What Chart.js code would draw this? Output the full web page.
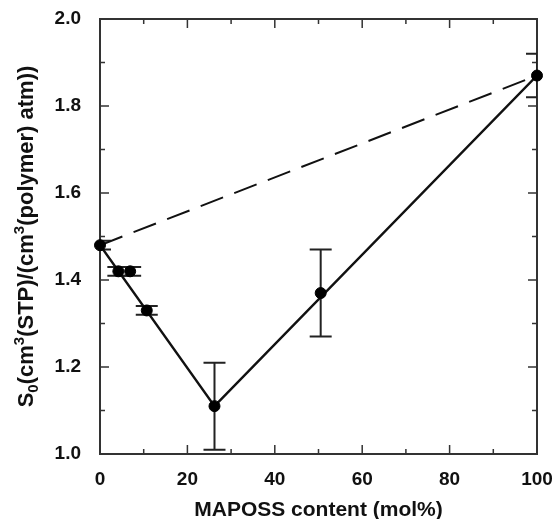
<!DOCTYPE html>
<html>
<head>
<meta charset="utf-8">
<script src="https://cdn.jsdelivr.net/npm/chart.js@4/dist/chart.umd.min.js"></script>
<style>
html,body{margin:0;padding:0;background:#fff;}
#wrap{width:558px;height:519px;}
</style>
</head>
<body>
<div id="wrap"><canvas id="c" width="558" height="519"></canvas></div>
<script>
// ---- data ----
const xValues = [0, 4.2, 6.9, 10.7, 26.2, 50.5, 100];
const yValues = [1.48, 1.42, 1.42, 1.33, 1.11, 1.37, 1.87];
const yErrors = [0.01, 0.01, 0.01, 0.01, 0.10, 0.10, 0.05];
const solidX = [0, 26.2, 100];
const solidY = [1.48, 1.11, 1.87];
const dashX = [0, 100];
const dashY = [1.48, 1.87];
const xTicks = [0, 20, 40, 60, 80, 100];
const xMinor = [10, 30, 50, 70, 90];
const yTicks = [1.0, 1.2, 1.4, 1.6, 1.8, 2.0];
const yMinor = [1.1, 1.3, 1.5, 1.7, 1.9];
const xTitle = 'MAPOSS content (mol%)';
const yTitleParts = [['S',''],['0','sub'],['(cm',''],['3','sup'],['(STP)/(cm',''],['3','sup'],['(polymer) atm))','']];

const FONT = '"Liberation Sans", Arial, sans-serif';
const AXC = '#333';

const pts = xValues.map((x,i)=>({x, y:yValues[i]}));

const errorBars = {
  id:'errorBars',
  beforeDatasetsDraw(chart){
    const {ctx, chartArea:a, scales:{x,y}} = chart;
    ctx.save();
    ctx.beginPath(); ctx.rect(a.left, a.top, a.right-a.left, a.bottom-a.top); ctx.clip();
    ctx.strokeStyle = '#222'; ctx.lineWidth = 2;
    xValues.forEach((xv,i)=>{
      const px = x.getPixelForValue(xv);
      const top = y.getPixelForValue(yValues[i]+yErrors[i]);
      const bot = y.getPixelForValue(yValues[i]-yErrors[i]);
      ctx.beginPath();
      ctx.moveTo(px, top); ctx.lineTo(px, bot);
      ctx.moveTo(px-11, top); ctx.lineTo(px+11, top);
      ctx.moveTo(px-11, bot); ctx.lineTo(px+11, bot);
      ctx.stroke();
    });
    ctx.restore();
  }
};

const frame = {
  id:'frame',
  beforeDatasetsDraw(chart){
    const {ctx, chartArea:a, scales:{x,y}} = chart;
    ctx.save();
    ctx.strokeStyle = AXC; ctx.lineWidth = 2;
    ctx.strokeRect(a.left, a.top, a.right-a.left, a.bottom-a.top);
    ctx.lineWidth = 1.5;
    ctx.beginPath();
    const tx = (v,len)=>{const p=x.getPixelForValue(v); ctx.moveTo(p,a.bottom); ctx.lineTo(p,a.bottom-len); ctx.moveTo(p,a.top); ctx.lineTo(p,a.top+len);};
    const ty = (v,len)=>{const p=y.getPixelForValue(v); ctx.moveTo(a.left,p); ctx.lineTo(a.left+len,p); ctx.moveTo(a.right,p); ctx.lineTo(a.right-len,p);};
    xTicks.forEach(v=>tx(v,9)); xMinor.forEach(v=>tx(v,5));
    yTicks.forEach(v=>ty(v,9)); yMinor.forEach(v=>ty(v,5));
    ctx.stroke();
    ctx.restore();
  },
  afterDraw(chart){
    const {ctx, chartArea:a} = chart;
    ctx.save();
    ctx.fillStyle = '#111';
    ctx.font = 'bold 21px ' + FONT;
    ctx.textAlign = 'center'; ctx.textBaseline = 'alphabetic';
    ctx.fillText(xTitle, (a.left+a.right)/2, 516);
    // y title, rotated, with sub/superscripts
    const big = 'bold 22px ' + FONT, small = 'bold 15px ' + FONT;
    let total = 0;
    yTitleParts.forEach(([t,k])=>{ctx.font = k ? small : big; total += ctx.measureText(t).width;});
    ctx.translate(33, (a.top+a.bottom)/2);
    ctx.rotate(-Math.PI/2);
    ctx.textAlign = 'left';
    let cx = -total/2;
    yTitleParts.forEach(([t,k])=>{
      ctx.font = k ? small : big;
      const dy = k==='sub' ? 5 : (k==='sup' ? -9 : 0);
      ctx.fillText(t, cx, dy);
      cx += ctx.measureText(t).width;
    });
    ctx.restore();
  }
};

new Chart(document.getElementById('c'), {
  type:'scatter',
  data:{
    datasets:[
      {data: dashX.map((x,i)=>({x, y:dashY[i]})), showLine:true, borderColor:'#111', borderWidth:2, borderDash:[24,12], pointRadius:0, order:3},
      {data: solidX.map((x,i)=>({x, y:solidY[i]})), showLine:true, borderColor:'#111', borderWidth:2.5, pointRadius:0, order:2},
      {data: pts, showLine:false, backgroundColor:'#000', borderColor:'#000', pointRadius:5.5, clip:false, order:1}
    ]
  },
  options:{
    responsive:false, animation:false,
    layout:{padding:{top:19, right:21, left:0, bottom:0}},
    plugins:{legend:{display:false}, tooltip:{enabled:false}},
    scales:{
      x:{type:'linear', min:0, max:100,
        afterBuildTicks:s=>{s.ticks = xTicks.map(v=>({value:v}));},
        afterFit:s=>{s.height = 65; s.paddingLeft = 0; s.paddingRight = 0;},
        grid:{display:false}, border:{display:false},
        ticks:{padding:6, color:'#111', font:{family:FONT, size:19, weight:'bold'}, callback:v=>String(v), maxRotation:0}
      },
      y:{type:'linear', min:1.0, max:2.0,
        afterBuildTicks:s=>{s.ticks = yTicks.map(v=>({value:v}));},
        afterFit:s=>{s.width = 100; s.paddingTop = 0; s.paddingBottom = 0;},
        grid:{display:false}, border:{display:false},
        ticks:{padding:11, color:'#111', font:{family:FONT, size:19, weight:'bold'}, callback:v=>Number(v).toFixed(1)}
      }
    }
  },
  plugins:[frame, errorBars]
});
</script>
</body>
</html>
